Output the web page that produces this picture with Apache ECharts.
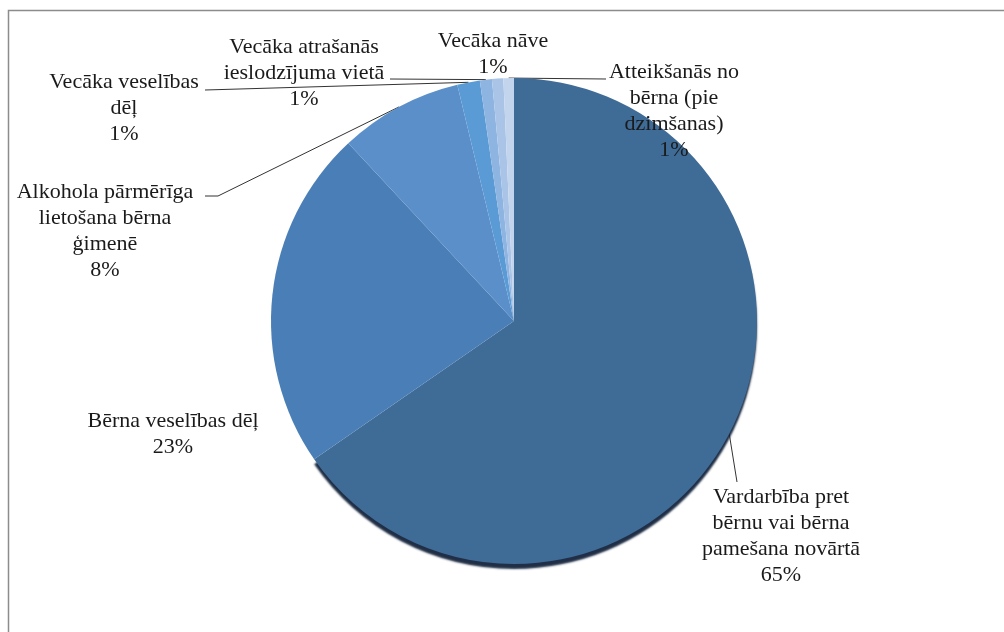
<!DOCTYPE html>
<html>
<head>
<meta charset="utf-8">
<script src="https://cdn.jsdelivr.net/npm/echarts@6/dist/echarts.min.js"></script>
<style>
html, body { margin: 0; padding: 0; background: #fff; }
#chart { width: 1004px; height: 632px; }
</style>
</head>
<body>
<div id="chart"></div>
<script>
var categories = [
	'Vardarbība pret\nbērnu vai bērna\npamešana novārtā',
	'Bērna veselības dēļ',
	'Alkohola pārmērīga\nlietošana bērna\nģimenē',
	'Vecāka veselības\ndēļ',
	'Vecāka atrašanās\nieslodzījuma vietā',
	'Vecāka nāve',
	'Atteikšanās no\nbērna (pie\ndzimšanas)'
];
var values = [65.4, 22.7, 8.2, 1.5, 0.8, 0.75, 0.7];
var colors = ['#3f6b97', '#4a7eb6', '#5a8fca', '#5b9bd5', '#8eb4e2', '#a9c4e6', '#c3d5ed'];
var hasLeader = [true, false, true, true, true, false, true];

// label centres and leader line ends (layout only)
var labelPlaces = [[781, 536], [173, 434], [105, 231], [124, 108], [304, 73], [493, 54], [674, 111]];
var leaderEnds = [
	[[737, 482]],
	null,
	[[218, 196], [205, 196]],
	[[205, 90]],
	[[390, 79]],
	null,
	[[606, 79]]
];

function buildData() {
	var data = [];
	for (var i = 0; i < categories.length; i++) {
		var entry = {
			name : categories[i],
			value : values[i],
			itemStyle : { color : colors[i] },
			labelLine : { show : hasLeader[i] }
		};
		if (i == 0) {
			entry.itemStyle.shadowBlur = 2;
			entry.itemStyle.shadowOffsetX = 0;
			entry.itemStyle.shadowOffsetY = 5;
			entry.itemStyle.shadowColor = 'rgba(20, 36, 60, 0.95)';
		}
		data.push(entry);
	}
	return data;
}

var myChart = echarts.init(document.getElementById('chart'));
myChart.setOption({
	animation : false,
	backgroundColor : '#fff',
	graphic : [ {
		type : 'rect',
		silent : true,
		z : -10,
		shape : { x : 8.5, y : 10.5, width : 1200, height : 800 },
		style : { fill : 'none', stroke : '#8c8c8c', lineWidth : 1.5 }
	} ],
	series : [ {
		type : 'pie',
		center : [ 514, 321 ],
		radius : 243,
		startAngle : 90,
		clockwise : true,
		avoidLabelOverlap : false,
		percentPrecision : 0,
		data : buildData(),
		label : {
			show : true,
			position : 'outside',
			formatter : '{b}\n{d}%',
			fontFamily : '"Liberation Serif", "DejaVu Serif", serif',
			fontSize : 22,
			lineHeight : 26,
			color : '#1a1a1a'
		},
		labelLine : {
			show : true,
			length : 10,
			length2 : 10,
			smooth : false,
			lineStyle : { color : '#333', width : 1 }
		},
		labelLayout : function(params) {
			var i = params.dataIndex;
			var out = {
				x : labelPlaces[i][0],
				y : labelPlaces[i][1],
				align : 'center',
				verticalAlign : 'middle'
			};
			if (params.labelLinePoints && leaderEnds[i]) {
				out.labelLinePoints = [ params.labelLinePoints[0] ].concat(leaderEnds[i]);
			}
			return out;
		},
		emphasis : { disabled : true }
	} ]
});
</script>
</body>
</html>
